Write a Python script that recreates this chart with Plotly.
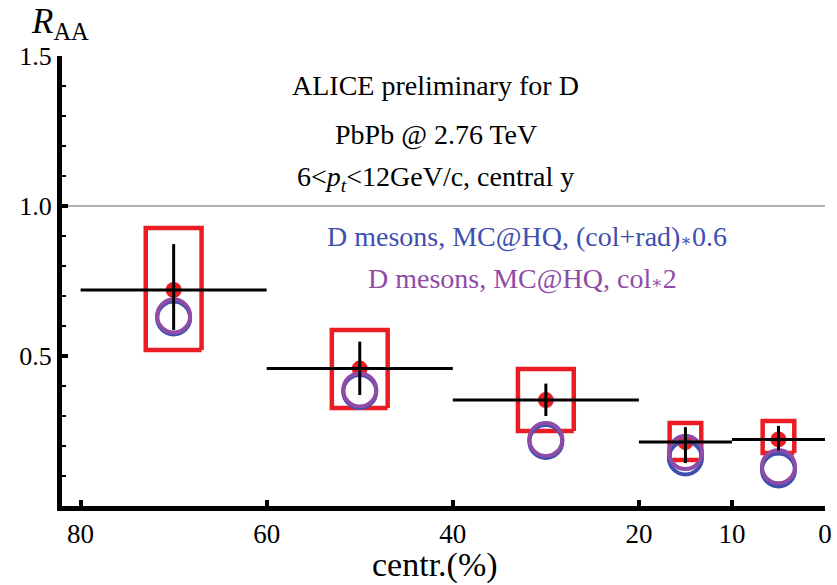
import plotly.graph_objects as go
import numpy as np

# ---- data ----
cent_lo = [60, 40, 20, 10, 0]
cent_hi = [80, 60, 40, 20, 10]
alice_raa = [0.720, 0.458, 0.353, 0.213, 0.222]
alice_err_up = [0.153, 0.090, 0.055, 0.050, 0.045]
alice_err_dn = [0.133, 0.088, 0.053, 0.070, 0.037]
syst_lo = [0.520, 0.327, 0.250, 0.153, 0.177]
syst_hi = [0.927, 0.587, 0.457, 0.277, 0.283]
syst_halfwidth = [3.0, 3.0, 3.0, 1.7, 1.7]
mc_colrad = [0.627, 0.382, 0.215, 0.160, 0.120]
mc_col2 = [0.633, 0.387, 0.222, 0.178, 0.131]
ref_line = 1.0

x_ticks = [80, 60, 40, 20, 10, 0]
y_ticks = [0.5, 1.0, 1.5]
y_tick_labels = ["0.5", "1.0", "1.5"]

centers = [(a + b) / 2 for a, b in zip(cent_lo, cent_hi)]
halfw = [(b - a) / 2 for a, b in zip(cent_lo, cent_hi)]

RED = "#ec1c24"
BLUE = "#3d50b0"
PURPLE = "#8e4ca6"
FONT = "Liberation Serif"
AST = '<span style="font-family:DejaVu Serif;font-size:17px">\u2217</span>'

fig = go.Figure()

# systematic boxes
bx, by = [], []
for c, w, lo, hi in zip(centers, syst_halfwidth, syst_lo, syst_hi):
    bx += [c - w, c + w, c + w, c - w, c - w, None]
    by += [lo, lo, hi, hi, lo, None]
fig.add_trace(go.Scatter(x=bx, y=by, mode="lines",
                         line=dict(color=RED, width=4.5), hoverinfo="skip",
                         showlegend=False))

# red dots
fig.add_trace(go.Scatter(x=centers, y=alice_raa, mode="markers",
                         marker=dict(color=RED, size=16), showlegend=False))

# MC@HQ circles
fig.add_trace(go.Scatter(x=centers, y=mc_colrad, mode="markers",
                         marker=dict(symbol="circle-open", size=33, color=BLUE,
                                     line=dict(width=4, color=BLUE)),
                         showlegend=False))
fig.add_trace(go.Scatter(x=centers, y=mc_col2, mode="markers",
                         marker=dict(symbol="circle-open", size=33, color=PURPLE,
                                     line=dict(width=4, color=PURPLE)),
                         showlegend=False))

# black error bars
fig.add_trace(go.Scatter(x=centers, y=alice_raa, mode="markers",
                         marker=dict(size=1, color="rgba(0,0,0,0)"),
                         error_x=dict(type="data", symmetric=True, array=halfw,
                                      color="black", thickness=3, width=0),
                         error_y=dict(type="data", symmetric=False,
                                      array=alice_err_up, arrayminus=alice_err_dn,
                                      color="black", thickness=3, width=0),
                         showlegend=False))

fig.add_shape(type="line", xref="paper", yref="y", x0=0, x1=1, y0=ref_line, y1=ref_line,
              line=dict(color="#999999", width=1.5), layer="below")

# text annotations
hdr = ["ALICE preliminary for D",
       "PbPb @ 2.76 TeV",
       "6&lt;<i>p</i><sub><i>t</i></sub>&lt;12GeV/c, central y"]
hdr_y = [0.934, 0.826, 0.728]
for t, yy in zip(hdr, hdr_y):
    fig.add_annotation(text=t, xref="paper", yref="paper", x=0.490, y=yy,
                       xanchor="center", yanchor="middle", showarrow=False,
                       font=dict(family=FONT, size=28, color="black"))

fig.add_annotation(text="D mesons, MC@HQ, (col+rad)" + AST + "0.6", xref="paper", yref="paper",
                   x=0.609, y=0.598, xanchor="center", yanchor="middle", showarrow=False,
                   font=dict(family=FONT, size=28, color=BLUE))
fig.add_annotation(text="D mesons, MC@HQ, col" + AST + "2", xref="paper", yref="paper",
                   x=0.603, y=0.505, xanchor="center", yanchor="middle", showarrow=False,
                   font=dict(family=FONT, size=28, color=PURPLE))

fig.add_annotation(text="<i>R</i><sub>AA</sub>", xref="paper", yref="paper",
                   x=-0.043, y=1.125, xanchor="left", yanchor="top", showarrow=False,
                   font=dict(family=FONT, size=35, color="black"))

# x axis title
fig.add_annotation(text="centr.(%)", xref="paper", yref="paper",
                   x=0.489, y=-0.131, xanchor="center", yanchor="middle", showarrow=False,
                   font=dict(family=FONT, size=34, color="black"))

fig.update_layout(
    width=837, height=585,
    margin=dict(l=62, r=12, t=56, b=79),
    paper_bgcolor="white", plot_bgcolor="white",
    font=dict(family=FONT, color="black"),
    showlegend=False,
)
fig.update_xaxes(range=[82, 0], showgrid=False, zeroline=False, automargin=False,
                 showline=True, linecolor="black", linewidth=5,
                 tickmode="array", tickvals=x_ticks,
                 ticks="inside", ticklen=6, tickwidth=4, tickcolor="black",
                 tickfont=dict(family=FONT, size=27, color="black"))
fig.update_yaxes(range=[0, 1.5], showgrid=False, zeroline=False, automargin=False,
                 showline=True, linecolor="black", linewidth=5,
                 tickmode="array", tickvals=y_ticks, ticktext=y_tick_labels,
                 ticks="inside", ticklen=6, tickwidth=4, tickcolor="black",
                 tickfont=dict(family=FONT, size=26, color="black"),
                 minor=dict(tickmode="array", tickvals=list(np.round(np.arange(0.1, 1.5, 0.1), 2)),
                            ticks="inside", ticklen=4, tickwidth=2, tickcolor="black"))

fig.write_html("out.html")
